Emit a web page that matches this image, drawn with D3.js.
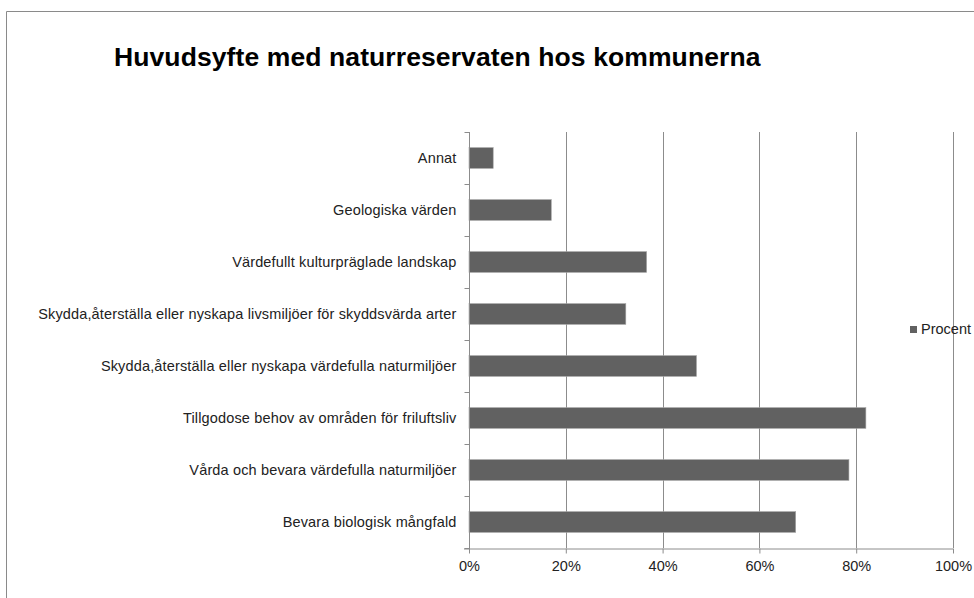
<!DOCTYPE html>
<html>
<head>
<meta charset="utf-8">
<script src="https://cdn.jsdelivr.net/npm/d3@7"></script>
<style>
  body { margin: 0; background: #fff; }
  svg text { font-family: Arial, "Liberation Sans", sans-serif; fill: #222; }
</style>
</head>
<body>
<svg id="chart" width="974" height="598"></svg>
<script>
// categories from top to bottom, as shown in the chart
const categories = [
    "Annat",
    "Geologiska värden",
    "Värdefullt kulturpräglade landskap",
    "Skydda,återställa eller nyskapa livsmiljöer för skyddsvärda arter",
    "Skydda,återställa eller nyskapa värdefulla naturmiljöer",
    "Tillgodose behov av områden för friluftsliv",
    "Vårda och bevara värdefulla naturmiljöer",
    "Bevara biologisk mångfald"
];
const procent = [5.0, 17.0, 36.7, 32.4, 47.0, 82.0, 78.5, 67.5];
const tickValues = [0, 20, 40, 60, 80, 100];
const seriesName = "Procent";
const title = "Huvudsyfte med naturreservaten hos kommunerna";

const svg = d3.select("#chart");

// chart area frame (only top and left edges are visible in the crop)
svg.append("path")
    .attr("d", "M6.5,598 V11.5 H974")
    .attr("fill", "none")
    .attr("stroke", "#8a8a8a")
    .attr("stroke-width", 1);

svg.append("text")
    .attr("x", 114)
    .attr("y", 66)
    .style("font-size", "26.5px")
    .style("letter-spacing", "0.1px")
    .style("font-weight", "bold")
    .style("fill", "#000")
    .text(title);

const x = d3.scaleLinear().domain([0, 100]).range([469, 953]);
const y = d3.scaleBand().domain(categories).range([132, 548]).paddingInner(0.6).paddingOuter(0.3);

// vertical gridlines
svg.append("g")
    .selectAll("line")
    .data(tickValues.slice(1))
    .join("line")
    .attr("x1", d => Math.round(x(d)) + 0.5)
    .attr("x2", d => Math.round(x(d)) + 0.5)
    .attr("y1", 132)
    .attr("y2", 548)
    .attr("stroke", "#8c8c8c")
    .attr("stroke-width", 1);

// bars
svg.append("g")
    .selectAll("rect")
    .data(categories)
    .join("rect")
    .attr("x", x(0))
    .attr("y", d => y(d))
    .attr("width", (d, i) => x(procent[i]) - x(0))
    .attr("height", y.bandwidth())
    .attr("fill", "#616161")
    .attr("stroke", "#a6a6a6")
    .attr("stroke-width", 0.6);

// x axis
const xAxis = svg.append("g")
    .attr("transform", "translate(0,548.5)")
    .call(d3.axisBottom(x).tickValues(tickValues).tickFormat(d => d + "%").tickSize(5).tickSizeOuter(0));
xAxis.select(".domain").attr("stroke", "#8c8c8c").attr("d", "M464,0.5H953");
xAxis.selectAll(".tick line").attr("stroke", "#8c8c8c");
xAxis.selectAll(".tick text")
    .attr("y", 12)
    .style("font-size", "14.5px")
    .style("font-family", "Arial, 'Liberation Sans', sans-serif")
    .style("fill", "#222")
    .attr("dy", "0.71em");

// y axis: ticks sit on category boundaries
const yAxisG = svg.append("g").attr("transform", "translate(469.5,0)");
yAxisG.append("line")
    .attr("y1", 132).attr("y2", 549)
    .attr("stroke", "#8c8c8c");
const step = y.step();
yAxisG.selectAll("line.tk")
    .data(d3.range(categories.length + 1))
    .join("line")
    .attr("class", "tk")
    .attr("x1", -5).attr("x2", 0)
    .attr("y1", i => Math.round(y(categories[0]) - y.paddingOuter() * step + i * step) + 0.5)
    .attr("y2", i => Math.round(y(categories[0]) - y.paddingOuter() * step + i * step) + 0.5)
    .attr("stroke", "#8c8c8c");

yAxisG.selectAll("text")
    .data(categories)
    .join("text")
    .attr("x", -13)
    .attr("y", d => y(d) + y.bandwidth() / 2)
    .attr("dy", "0.35em")
    .attr("text-anchor", "end")
    .style("font-size", "14.5px")
    .style("letter-spacing", "0.15px")
    .text(d => d);

// legend
const legend = svg.append("g").attr("transform", "translate(910,326)");
legend.append("rect")
    .attr("width", 7).attr("height", 7)
    .attr("fill", "#616161");
legend.append("text")
    .attr("x", 11)
    .attr("y", 8)
    .style("font-size", "14.5px")
    .text(seriesName);
</script>
</body>
</html>
